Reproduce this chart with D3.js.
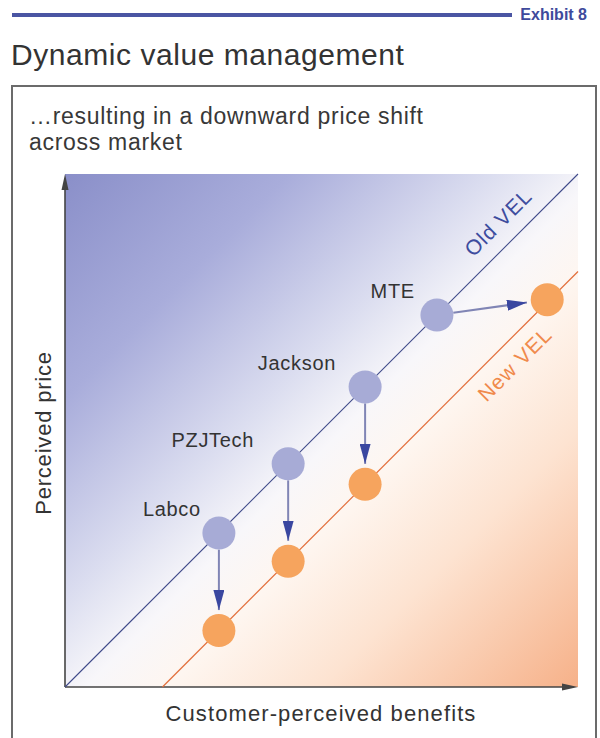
<!DOCTYPE html>
<html>
<head>
<meta charset="utf-8">
<script src="https://cdn.jsdelivr.net/npm/d3@7"></script>
<style>
  html, body { margin: 0; padding: 0; background: #ffffff; }
  svg { display: block; font-family: "Liberation Sans", Arial, Helvetica, sans-serif; }
</style>
</head>
<body>
<svg id="chart" width="600" height="738"></svg>
<script>
// ---- data ----
const companies   = ["Labco", "PZJTech", "Jackson", "MTE"];
const oldBenefit  = [30, 43.5, 58.5, 72.5];
const oldPrice    = [30, 43.5, 58.5, 72.5];
const newBenefit  = [30, 43.5, 58.5, 94];
const newPrice    = [11, 24.5, 39.5, 75.5];
const oldVEL      = [[0, 0], [100, 100]];
const newVEL      = [[19, 0], [100, 81]];
const axisDomain  = [0, 100];
const titleText   = "Dynamic value management";
const subtitle    = ["\u2026resulting in a downward price shift", "across market"];
const exhibitText = "Exhibit 8";
const xLabel      = "Customer-perceived benefits";
const yLabel      = "Perceived price";

// ---- layout ----
const svg = d3.select("#chart");
const x = d3.scaleLinear().domain(axisDomain).range([65, 578]);
const y = d3.scaleLinear().domain(axisDomain).range([687, 174]);
const R = 16.5;
const labelDx = [-18, -34, -29, -22];

const defs = svg.append("defs");
const grad = defs.append("linearGradient").attr("id", "bg")
  .attr("gradientUnits", "userSpaceOnUse")
  .attr("x1", x(0)).attr("y1", y(100)).attr("x2", x(100)).attr("y2", y(0));
[[0, "#8a8fc9"], [0.22, "#a9addb"], [0.42, "#dcdef0"], [0.52, "#f8f7fa"],
 [0.6, "#fef6f0"], [0.75, "#fde3d1"], [1, "#f6b189"]]
  .forEach(([o, c]) => grad.append("stop").attr("offset", o).attr("stop-color", c));

defs.append("marker").attr("id", "head")
  .attr("viewBox", "0 0 20 11").attr("refX", 20).attr("refY", 5.5)
  .attr("markerWidth", 20).attr("markerHeight", 11)
  .attr("markerUnits", "userSpaceOnUse").attr("orient", "auto")
  .append("path").attr("d", "M0,0 L20,5.5 L0,11 Z").attr("fill", "#3a47a0");

// header bar
svg.append("line").attr("x1", 12).attr("x2", 512).attr("y1", 15).attr("y2", 15)
  .attr("stroke", "#4a55a3").attr("stroke-width", 4);
svg.append("text").attr("x", 587).attr("y", 20).attr("text-anchor", "end")
  .attr("font-size", 16).attr("font-weight", "bold").attr("fill", "#3e4a9c")
  .text(exhibitText);

svg.append("text").attr("x", 11).attr("y", 65).attr("font-size", 30)
  .attr("letter-spacing", 0.55).attr("fill", "#333").text(titleText);

// frame
svg.append("rect").attr("x", 12).attr("y", 86).attr("width", 584).attr("height", 680)
  .attr("fill", "none").attr("stroke", "#6b6b6b").attr("stroke-width", 2);

svg.selectAll("text.sub").data(subtitle).join("text").attr("class", "sub")
  .attr("x", 29).attr("y", (d, i) => 124 + i * 26)
  .attr("font-size", 23).attr("letter-spacing", 0.7).attr("fill", "#383838").text(d => d);

// background
svg.append("rect").attr("x", x(0)).attr("y", y(100))
  .attr("width", x(100) - x(0)).attr("height", y(0) - y(100)).attr("fill", "url(#bg)");

// axes
const xAxis = d3.axisBottom(x).tickValues([]).tickSizeOuter(0);
const yAxis = d3.axisLeft(y).tickValues([]).tickSizeOuter(0);
svg.append("g").attr("transform", `translate(0,${y(0)})`).call(xAxis)
  .select(".domain").attr("stroke", "#444").attr("stroke-width", 1.6)
  .attr("d", `M${x(0)},0H${x(100) - 8}`);
svg.append("g").attr("transform", `translate(${x(0)},0)`).call(yAxis)
  .select(".domain").attr("stroke", "#444").attr("stroke-width", 1.6)
  .attr("d", `M0,${y(0)}V${y(100) + 8}`);
svg.append("path").attr("fill", "#444")
  .attr("d", `M${x(100)},${y(0)} L${x(100) - 16},${y(0) - 3.5} L${x(100) - 16},${y(0) + 3.5} Z`);
svg.append("path").attr("fill", "#444")
  .attr("d", `M${x(0)},${y(100)} L${x(0) - 3.5},${y(100) + 16} L${x(0) + 3.5},${y(100) + 16} Z`);

// VEL lines
const line = d3.line().x(d => x(d[0])).y(d => y(d[1]));
svg.append("path").attr("d", line(oldVEL)).attr("stroke", "#3f4a8a")
  .attr("stroke-width", 1.1).attr("fill", "none");
svg.append("path").attr("d", line(newVEL)).attr("stroke", "#e26f3c")
  .attr("stroke-width", 1.2).attr("fill", "none");

// VEL labels
svg.append("text").attr("transform", `translate(${x(87.5) - 10.5},${y(87.5) - 10.5}) rotate(-45)`)
  .attr("text-anchor", "middle").attr("font-size", 21).attr("letter-spacing", 1)
  .attr("fill", "#3d4c9e").text("Old VEL");
svg.append("text").attr("transform", `translate(${x(84.8) + 20},${y(65.8) + 20}) rotate(-45)`)
  .attr("text-anchor", "middle").attr("font-size", 21).attr("letter-spacing", 1)
  .attr("fill", "#f08a4c").text("New VEL");

// arrows
const idx = d3.range(companies.length);
svg.selectAll("line.arrow").data(idx).join("line").attr("class", "arrow")
  .each(function (i) {
    const x0 = x(oldBenefit[i]), y0 = y(oldPrice[i]);
    const x1 = x(newBenefit[i]), y1 = y(newPrice[i]);
    const len = Math.hypot(x1 - x0, y1 - y0);
    const ux = (x1 - x0) / len, uy = (y1 - y0) / len;
    d3.select(this)
      .attr("x1", x0 + ux * R).attr("y1", y0 + uy * R)
      .attr("x2", x1 - ux * (R + 4)).attr("y2", y1 - uy * (R + 4));
  })
  .attr("stroke", "#8085b5").attr("stroke-width", 2).attr("marker-end", "url(#head)");

// circles
svg.selectAll("circle.old").data(idx).join("circle").attr("class", "old")
  .attr("cx", i => x(oldBenefit[i])).attr("cy", i => y(oldPrice[i])).attr("r", R)
  .attr("fill", "#a7abd6");
svg.selectAll("circle.new").data(idx).join("circle").attr("class", "new")
  .attr("cx", i => x(newBenefit[i])).attr("cy", i => y(newPrice[i])).attr("r", R)
  .attr("fill", "#f6a45e");

// company labels
svg.selectAll("text.lab").data(idx).join("text").attr("class", "lab")
  .attr("x", i => x(oldBenefit[i]) + labelDx[i]).attr("y", i => y(oldPrice[i]) - 17)
  .attr("text-anchor", "end").attr("font-size", 20).attr("letter-spacing", 0.7)
  .attr("fill", "#333").text(i => companies[i]);

// axis titles
svg.append("text").attr("x", 321).attr("y", 721).attr("text-anchor", "middle")
  .attr("font-size", 22).attr("letter-spacing", 1.1).attr("fill", "#333").text(xLabel);
svg.append("text").attr("transform", "translate(51,433) rotate(-90)")
  .attr("text-anchor", "middle").attr("font-size", 22).attr("letter-spacing", 0.8)
  .attr("fill", "#333").text(yLabel);
</script>
</body>
</html>
